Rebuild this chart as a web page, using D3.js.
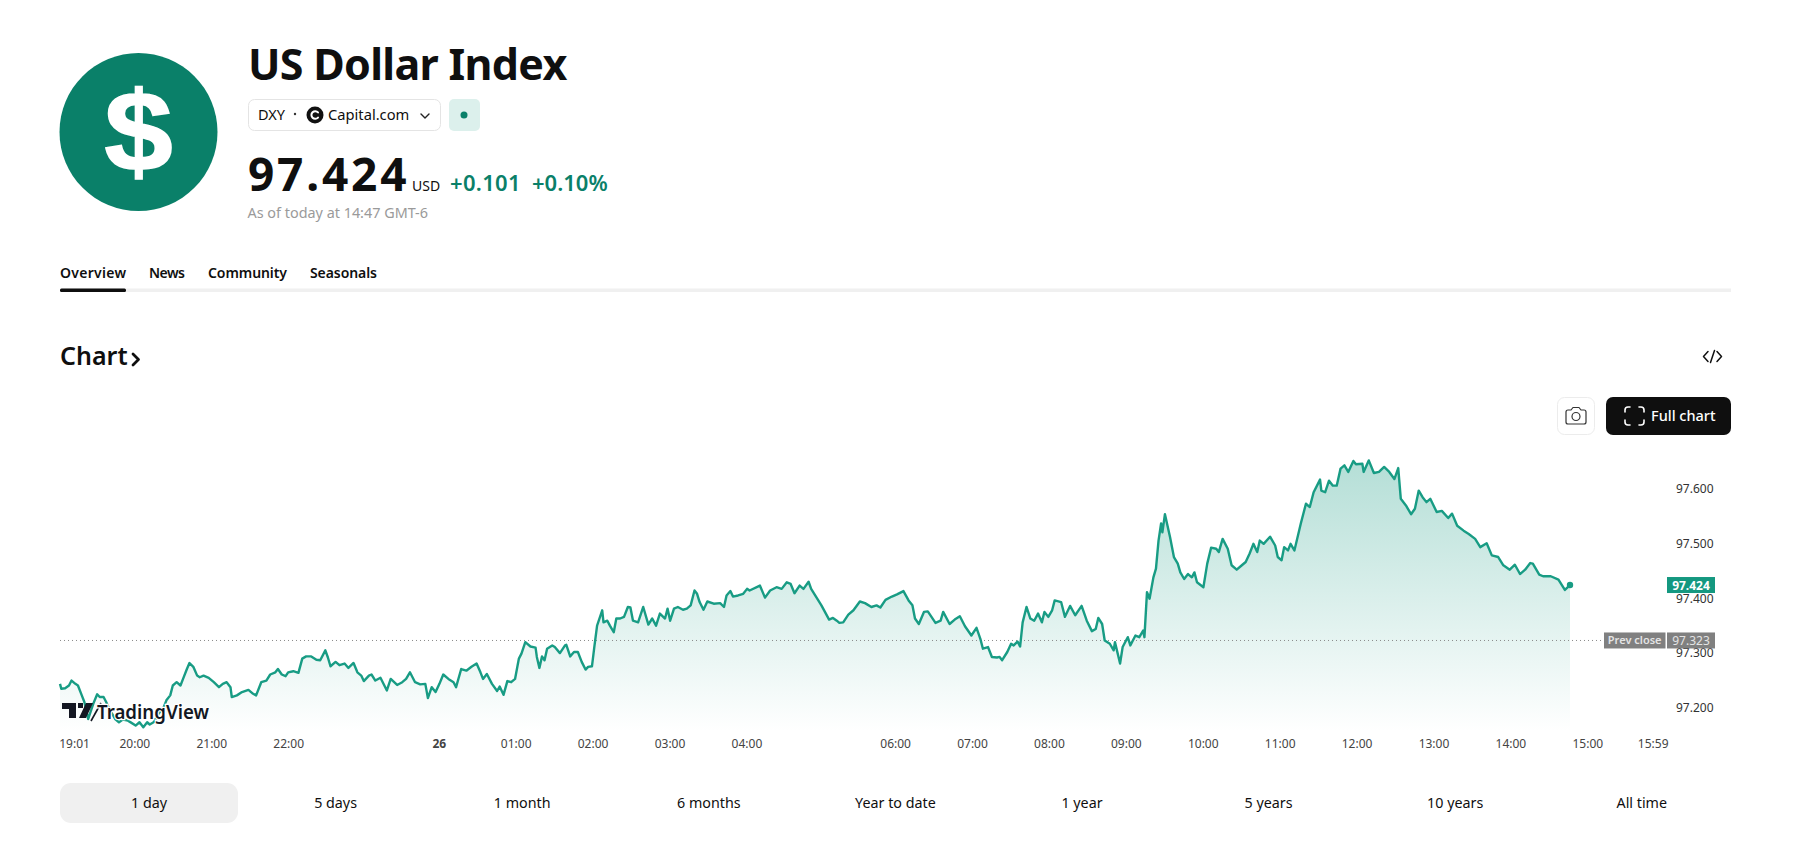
<!DOCTYPE html>
<html>
<head>
<meta charset="utf-8">
<title>US Dollar Index</title>
<script src="https://cdn.jsdelivr.net/npm/d3@7"></script>
<style>
  html, body { margin: 0; padding: 0; background: #fff; }
  text { font-family: "Noto Sans", sans-serif; fill: #0f0f0f; }
</style>
</head>
<body>
<svg id="page" width="1798" height="842"></svg>
<script>
// bar = one minute of the session, left edge of the plot is bar 0
var bars = [0,1,4,7,9,12,14,17,19,22,23,26,29,31,34,36,39,43,46,49,53,59,62,65,68,70,73,77,81,83,86,88,91,94,96,99,101,104,107,109,112,116,120,124,127,130,133,134,138,142,147,150,153,157,161,164,168,170,173,176,178,182,186,189,192,196,200,203,207,209,211,215,218,222,225,229,232,235,237,241,243,246,250,255,258,263,267,270,273,277,281,285,287,290,293,296,299,303,307,309,313,317,321,325,328,330,333,337,341,343,
  346,349,352,355,358,360,363,367,371,372,374,376,378,380,384,386,390,394,395,398,401,404,407,410,412,415,417,419,423,424,427,429,432,434,437,440,443,445,447,451,455,459,462,465,468,472,474,476,479,482,486,489,492,495,497,499,502,505,510,515,518,520,523,525,529,533,536,538,546,550,554,559,563,567,570,573,577,580,584,586,590,594,600,603,606,608,611,615,619,624,628,633,637,640,644,649,653,658,662,665,667,670,674,677,683,687,689,694,698,702,706,711,715,718,720,724,727,731,733,
  735,739,742,744,747,749,751,754,757,760,763,766,768,771,774,776,781,784,788,792,797,801,805,808,810,813,815,819,822,823,827,829,833,835,839,842,845,846,848,850,853,855,857,859,860,862,866,869,872,874,877,880,883,885,887,892,895,898,902,904,907,911,914,918,922,925,928,931,934,936,939,944,948,950,953,955,958,960,963,968,972,975,978,983,984,987,990,993,996,999,1002,1005,1009,1011,1016,1017,1021,1025,1029,1033,1037,1041,1044,1046,1050,1054,1057,1060,1063,1066,1069,1074,1078,1083,1086,1090,1095,1099,1104,1108,1113,1117,1122,1126,1131,1135,1139,1143,1147,1149,1154,1157,1163,1169,1174,1178];
var prices = [97.244,97.235,97.236,97.241,97.250,97.244,97.241,97.223,97.211,97.180,97.187,97.208,97.225,97.220,97.220,97.211,97.196,97.180,97.174,97.179,97.177,97.168,97.174,97.165,97.174,97.170,97.174,97.190,97.202,97.214,97.223,97.241,97.247,97.241,97.253,97.271,97.282,97.275,97.259,97.256,97.259,97.255,97.247,97.238,97.244,97.247,97.238,97.220,97.223,97.229,97.233,97.227,97.223,97.247,97.250,97.261,97.265,97.271,97.261,97.258,97.265,97.267,97.264,97.290,97.294,97.294,97.288,97.287,97.305,97.292,97.276,97.284,97.278,97.281,97.273,97.282,97.265,97.259,97.249,97.259,97.261,97.250,97.255,97.232,97.253,97.242,97.247,97.253,97.265,97.247,97.243,97.244,97.218,97.238,97.229,97.244,97.261,97.253,97.247,97.238,97.271,97.268,97.275,97.281,97.265,97.253,97.262,97.244,97.231,97.239,
  97.224,97.249,97.247,97.253,97.290,97.299,97.320,97.312,97.310,97.293,97.273,97.294,97.287,97.308,97.314,97.311,97.300,97.314,97.315,97.294,97.302,97.302,97.284,97.270,97.275,97.276,97.314,97.350,97.378,97.356,97.359,97.350,97.338,97.363,97.363,97.366,97.384,97.383,97.359,97.356,97.384,97.352,97.363,97.350,97.372,97.363,97.381,97.359,97.381,97.384,97.379,97.381,97.387,97.414,97.408,97.393,97.379,97.394,97.390,97.391,97.384,97.405,97.413,97.403,97.405,97.408,97.417,97.414,97.423,97.401,97.414,97.420,97.417,97.429,97.426,97.409,97.423,97.417,97.430,97.417,97.402,97.387,97.361,97.364,97.359,97.355,97.356,97.370,97.378,97.394,97.391,97.384,97.387,97.383,97.397,97.403,97.407,97.413,97.396,97.387,97.363,97.353,97.375,97.376,97.355,97.359,97.375,97.353,97.361,97.367,97.349,97.332,97.346,97.326,97.308,97.311,97.293,97.292,97.293,
  97.287,97.302,97.317,97.314,97.321,97.312,97.356,97.384,97.363,97.359,97.372,97.356,97.375,97.366,97.378,97.396,97.393,97.366,97.386,97.369,97.386,97.359,97.340,97.344,97.364,97.353,97.323,97.317,97.305,97.320,97.281,97.311,97.329,97.314,97.332,97.329,97.341,97.329,97.411,97.399,97.438,97.454,97.505,97.536,97.520,97.553,97.511,97.475,97.463,97.447,97.435,97.444,97.438,97.447,97.429,97.420,97.463,97.492,97.490,97.484,97.508,97.490,97.460,97.452,97.460,97.466,97.481,97.499,97.484,97.505,97.499,97.512,97.496,97.475,97.469,97.493,97.487,97.499,97.487,97.536,97.572,97.566,97.593,97.616,97.596,97.593,97.614,97.605,97.605,97.636,97.642,97.630,97.650,97.644,97.645,97.630,97.651,97.628,97.630,97.639,97.630,97.617,97.637,97.581,97.569,97.553,97.563,97.596,97.584,97.575,97.581,97.557,97.559,97.546,97.554,97.532,97.523,97.517,97.508,97.493,97.500,97.478,97.475,97.460,97.452,97.461,97.444,97.452,97.464,97.463,97.443,97.440,97.440,97.434,97.415,97.424];

var priceTicks = [97.2, 97.3, 97.4, 97.5, 97.6];
var timeTicks = ["19:01","20:00","21:00","22:00","26","01:00","02:00","03:00","04:00","06:00","07:00","08:00","09:00","10:00","11:00","12:00","13:00","14:00","15:00","15:59"];
var timeTickBars = [11,58,118,178,295.5,355.5,415.5,475.5,535.5,651.5,711.5,771.5,831.5,891.5,951.5,1011.5,1071.5,1131.5,1191.5,1242.5];
var lastPrice = 97.424;
var prevClose = 97.323;
var ranges = ["1 day","5 days","1 month","6 months","Year to date","1 year","5 years","10 years","All time"];
var tabs = ["Overview","News","Community","Seasonals"];

var green = "#0a8069";
var lineColor = "#189c84";
var svg = d3.select("#page");

function label(x, y, str, size, weight, color, anchor) {
  return svg.append("text").attr("x", x).attr("y", y).text(str)
    .style("font-size", size + "px")
    .style("font-weight", weight || 400)
    .style("fill", color || "#0f0f0f")
    .attr("text-anchor", anchor || "start");
}

function stroked(d, color, width) {
  return svg.append("path").attr("d", d).attr("fill", "none").attr("stroke", color).attr("stroke-width", width)
    .attr("stroke-linecap", "round").attr("stroke-linejoin", "round");
}

// header
svg.append("circle").attr("cx", 138.5).attr("cy", 132).attr("r", 79).attr("fill", green);
svg.append("text").attr("transform", "translate(138.5,171) scale(1.08,1)").attr("text-anchor", "middle").text("$")
  .style("font-family", "Liberation Sans").style("font-size", "114px").style("font-weight", 700)
  .style("fill", "#fff").style("stroke", "#fff").style("stroke-width", "1.5px");
label(248, 80, "US Dollar Index", 43, 700).style("letter-spacing", "-0.7px");

svg.append("rect").attr("x", 248.5).attr("y", 99.5).attr("width", 192).attr("height", 31).attr("rx", 6)
  .attr("fill", "#fff").attr("stroke", "#e4e4e4");
label(258, 120, "DXY", 14.5);
svg.append("circle").attr("cx", 295).attr("cy", 114).attr("r", 1.2).attr("fill", "#333");
svg.append("circle").attr("cx", 315).attr("cy", 115).attr("r", 8.5).attr("fill", "#111");
stroked("M318,112.4A3.8,3.8 0 1 0 318,117.6", "#fff", 2);
label(328, 120, "Capital.com", 14.7);
stroked("M421,114L425,118L429,114", "#222", 1.4);
svg.append("rect").attr("x", 449).attr("y", 99).attr("width", 31).attr("height", 32).attr("rx", 5).attr("fill", "#dcf0ec");
svg.append("circle").attr("cx", 464).attr("cy", 115).attr("r", 3.5).attr("fill", green);

label(248, 191, "97.424", 46, 700).style("letter-spacing", "2.8px");
label(412, 191, "USD", 14);
label(450, 191, "+0.101", 22, 600, green).style("letter-spacing", "0.3px");
label(532, 191, "+0.10%", 22, 600, green);
label(247.5, 218, "As of today at 14:47 GMT-6", 14.4, 400, "#9a9a9a");

// tabs
var tabX = [60, 149, 208, 310];
var tabW = [66, 36, 79, 67];
tabs.forEach(function(t, i) {
  label(tabX[i], 278, t, 14, 600).attr("textLength", tabW[i]).attr("lengthAdjust", "spacing");
});
svg.append("rect").attr("x", 60).attr("y", 288.5).attr("width", 1671).attr("height", 3.5).attr("fill", "#f0f0f0");
svg.append("rect").attr("x", 60).attr("y", 288.5).attr("width", 66).attr("height", 3.5).attr("rx", 1.5).attr("fill", "#0f0f0f");

// chart heading and buttons
label(60, 365, "Chart", 25, 600);
stroked("M133,354L138.5,359.5L133,365", "#0f0f0f", 2.8);
stroked("M1708,351.5L1703.5,356.5L1708,361.5", "#111", 1.5);
stroked("M1717,351.5L1721.5,356.5L1717,361.5", "#111", 1.5);
stroked("M1714.5,350.5L1710.5,362.5", "#111", 1.5);

svg.append("rect").attr("x", 1557.5).attr("y", 397.5).attr("width", 37).attr("height", 37).attr("rx", 7).attr("fill", "#fff").attr("stroke", "#ececec");
stroked("M1568,410H1571L1573,407.5H1579L1581,410H1584Q1586,410 1586,412V422Q1586,424 1584,424H1568Q1566,424 1566,422V412Q1566,410 1568,410Z", "#333", 1.2);
svg.append("circle").attr("cx", 1576).attr("cy", 416.5).attr("r", 4).attr("fill", "none").attr("stroke", "#333").attr("stroke-width", 1.2);
svg.append("rect").attr("x", 1606).attr("y", 397).attr("width", 125).attr("height", 38).attr("rx", 7).attr("fill", "#0f0f0f");
["M1625,412V410Q1625,407 1628,407H1630", "M1639,407H1641Q1644,407 1644,410V412", "M1644,420V422Q1644,425 1641,425H1639", "M1630,425H1628Q1625,425 1625,422V420"].forEach(function(c) {
  stroked(c, "#fff", 1.6);
});
label(1651, 421, "Full chart", 14.5, 500, "#fff");

// scales
var x = d3.scaleLinear().domain([0, 1178]).range([60, 1570]);
var y = d3.scaleLinear().domain([97.2, 97.6]).range([708, 488.4]);

var points = bars.map(function(b, i) { return [b, prices[i]]; });

var defs = svg.append("defs");
var grad = defs.append("linearGradient").attr("id", "fade").attr("gradientUnits", "userSpaceOnUse")
  .attr("x1", 0).attr("x2", 0).attr("y1", y(97.65)).attr("y2", 732);
grad.append("stop").attr("offset", 0).attr("stop-color", "#169a81").attr("stop-opacity", 0.32);
grad.append("stop").attr("offset", 1).attr("stop-color", "#169a81").attr("stop-opacity", 0);

var area = d3.area().x(function(d) { return x(d[0]); }).y0(732).y1(function(d) { return y(d[1]); });
var line = d3.line().x(function(d) { return x(d[0]); }).y(function(d) { return y(d[1]); });

svg.append("path").datum(points).attr("d", area).attr("fill", "url(#fade)");
svg.append("line").attr("x1", 60).attr("x2", 1604).attr("y1", y(prevClose)).attr("y2", y(prevClose))
  .attr("stroke", "#8a8a8a").attr("stroke-width", 1).attr("stroke-dasharray", "1,3");
svg.append("path").datum(points).attr("d", line).attr("fill", "none").attr("stroke", lineColor).attr("stroke-width", 2.4).attr("stroke-linejoin", "round");
svg.append("circle").attr("cx", x(1178)).attr("cy", y(lastPrice)).attr("r", 3.2).attr("fill", lineColor);

// axes, domain line and tick marks are hidden like the original
var yAxis = d3.axisRight(y).tickValues(priceTicks).tickFormat(d3.format(".3f")).tickSize(0);
var yAxisG = svg.append("g").attr("transform", "translate(1676,0)").call(yAxis);
yAxisG.select(".domain").remove();
yAxisG.selectAll("text").attr("x", 0).style("font-size", "12px").style("fill", "#333");

var xAxis = d3.axisBottom(x).tickValues(timeTickBars).tickFormat(function(d, i) { return timeTicks[i]; }).tickSize(0);
var xAxisG = svg.append("g").attr("transform", "translate(0,736)").call(xAxis);
xAxisG.select(".domain").remove();
xAxisG.selectAll("text").style("font-size", "12px").style("fill", "#444")
  .style("font-weight", function(d, i) { return timeTicks[i] === "26" ? 700 : 400; });

// price tags
svg.append("rect").attr("x", 1667).attr("y", y(lastPrice) - 8).attr("width", 48).attr("height", 16).attr("fill", "#149880");
label(1691, y(lastPrice) + 4.5, d3.format(".3f")(lastPrice), 12, 700, "#fff", "middle");
svg.append("rect").attr("x", 1604).attr("y", y(prevClose) - 8).attr("width", 61.5).attr("height", 16).attr("fill", "#808080");
label(1634.7, y(prevClose) + 4, "Prev close", 11, 600, "#e4e4e4", "middle");
svg.append("rect").attr("x", 1667).attr("y", y(prevClose) - 8).attr("width", 48).attr("height", 16).attr("fill", "#808080");
label(1691, y(prevClose) + 4.5, d3.format(".3f")(prevClose), 12, 400, "#e4e4e4", "middle");

// tradingview logo over the line
svg.append("path").attr("d", "M62,703H76V718H69V709H62Z M78,703H83V708H78Z M86,703H93L86,718H79Z").attr("fill", "#131722");
svg.append("path").attr("d", "M101,703L91,721").attr("stroke", "#131722").attr("stroke-width", 1.6);
label(97, 719, "TradingView", 20, 600, "#131722")
  .attr("textLength", 112).attr("lengthAdjust", "spacingAndGlyphs")
  .style("paint-order", "stroke").style("stroke", "#fff").style("stroke-width", "2.5px");

// range buttons
svg.append("rect").attr("x", 60).attr("y", 783).attr("width", 178).attr("height", 40).attr("rx", 11).attr("fill", "#f0f0f0");
ranges.forEach(function(r, i) { label(149 + 186.6 * i, 808, r, 14.3, 400, "#0f0f0f", "middle"); });
</script>
</body>
</html>
